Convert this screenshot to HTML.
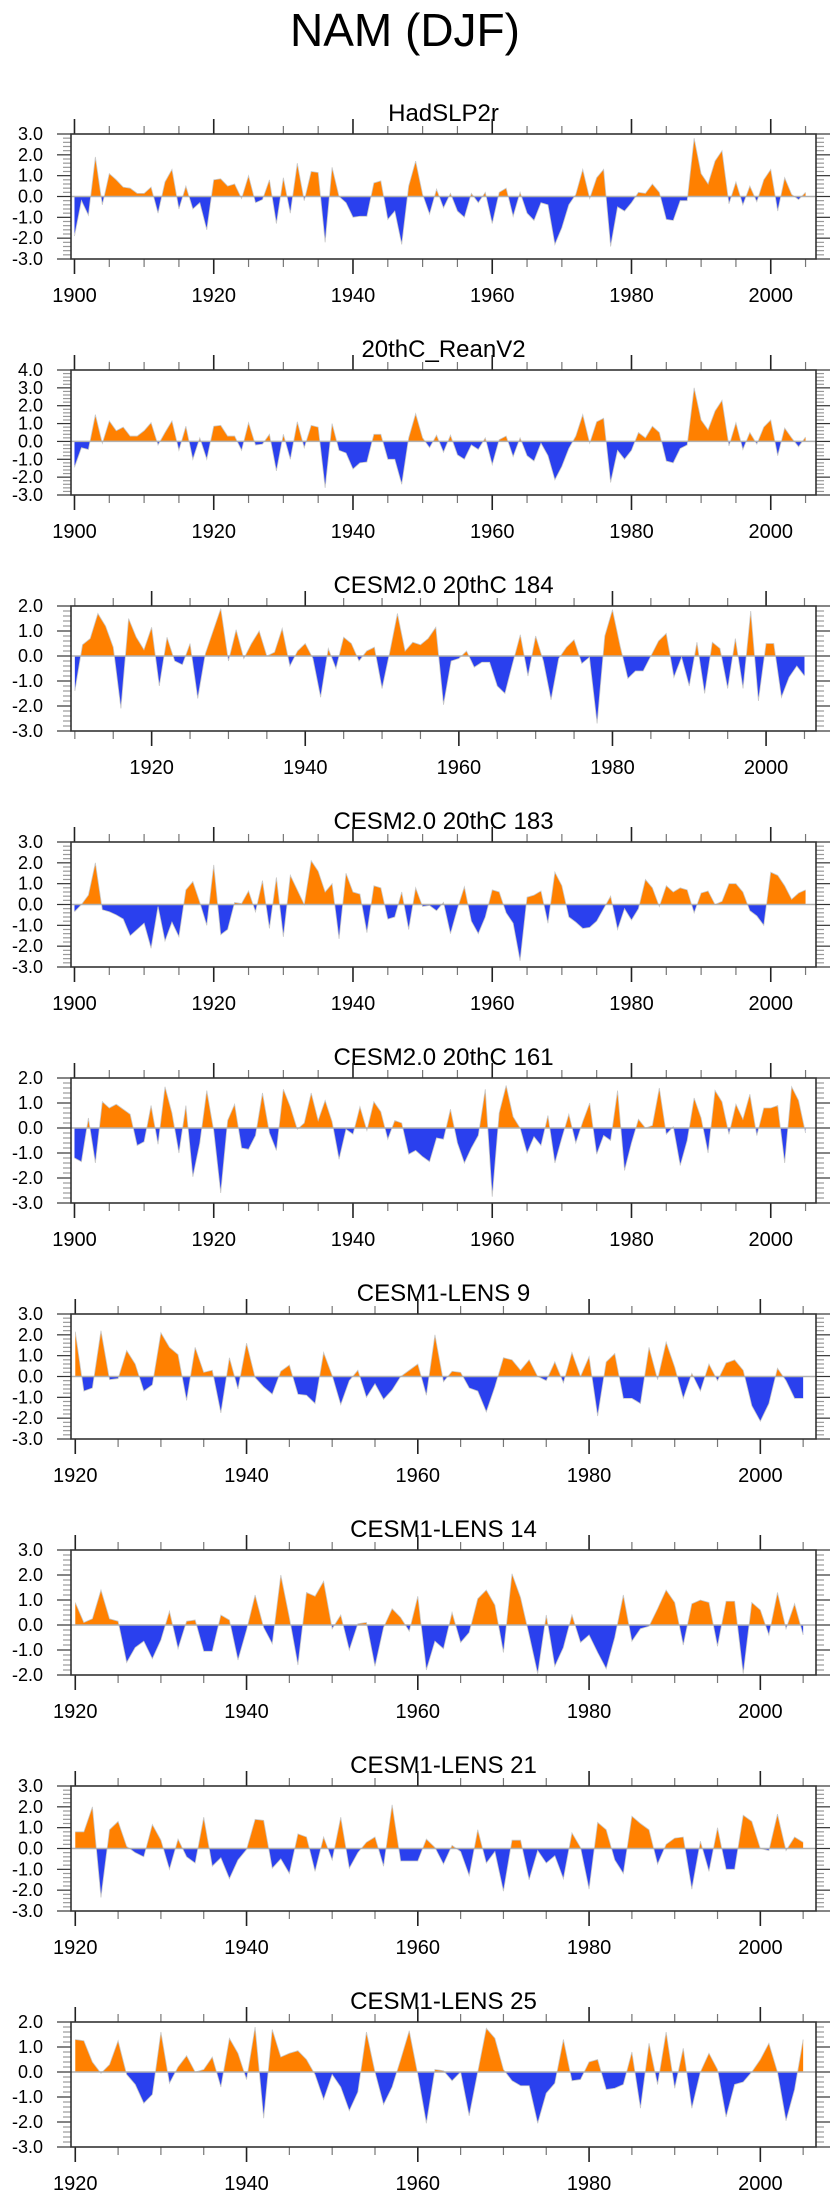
<!DOCTYPE html>
<html><head><meta charset="utf-8">
<style>
html,body{margin:0;padding:0;background:#fff;}
svg{display:block;}
text{font-family:"Liberation Sans",sans-serif;fill:#000;}
</style></head>
<body>
<svg id="fig" width="840" height="2200" viewBox="0 0 840 2200" xmlns="http://www.w3.org/2000/svg">
<text x="405" y="46" font-size="46" text-anchor="middle">NAM (DJF)</text>
</svg>
<script>
const titles = ["HadSLP2r","20thC_ReanV2","CESM2.0 20thC 184","CESM2.0 20thC 183","CESM2.0 20thC 161","CESM1-LENS 9","CESM1-LENS 14","CESM1-LENS 21","CESM1-LENS 25"];
const startYears = [1900,1900,1910,1900,1900,1920,1920,1920,1920];
const yMins = [-3,-3,-3,-3,-3,-3,-2,-3,-3];
const yMaxs = [3,4,2,3,2,3,3,3,2];
const xTickLabels = [1900,1920,1940,1960,1980,2000];
const had = [-1.9,-0.2,-0.9,1.9,-0.4,1.1,0.8,0.45,0.4,0.15,0.15,0.45,-0.8,0.7,1.3,-0.6,0.5,-0.6,-0.3,-1.6,0.8,0.85,0.5,0.6,-0.1,1.0,-0.3,-0.15,0.8,-1.3,0.9,-0.8,1.6,-0.2,1.2,1.15,-2.2,1.4,0,-0.3,-1.0,-0.95,-0.95,0.65,0.75,-1.1,-0.7,-2.3,0.5,1.7,0.1,-0.85,0.35,-0.55,0.15,-0.7,-1.0,0.15,-0.3,0.2,-1.3,0.2,0.4,-0.95,0.2,-0.8,-1.15,-0.3,-0.4,-2.3,-1.5,-0.4,0.1,1.3,-0.1,0.9,1.3,-2.4,-0.5,-0.7,-0.3,0.2,0.15,0.6,0.2,-1.1,-1.15,-0.2,-0.2,2.8,1.1,0.6,1.7,2.2,-0.35,0.7,-0.4,0.5,-0.25,0.8,1.3,-0.7,0.9,0.1,-0.15,0.2];
const rean = [-1.45,-0.35,-0.45,1.5,-0.1,1.15,0.6,0.8,0.3,0.3,0.6,1.05,-0.2,0.5,1.15,-0.5,0.85,-1.0,0.2,-1.0,0.85,0.9,0.3,0.3,-0.5,1.05,-0.2,-0.15,0.4,-1.65,0.4,-1.0,1.1,-0.35,0.9,0.8,-2.6,1.0,-0.5,-0.65,-1.55,-1.2,-1.15,0.4,0.4,-1.0,-1.0,-2.4,0.2,1.55,0.2,-0.35,0.35,-0.6,0.35,-0.75,-1.0,-0.2,-0.45,0.2,-1.3,0.1,0.3,-0.85,0.2,-0.8,-1.1,-0.1,-0.8,-2.15,-1.4,-0.4,0.3,1.5,-0.1,1.1,1.3,-2.3,-0.5,-1.0,-0.5,0.5,0.2,0.85,0.5,-1.1,-1.2,-0.4,-0.2,3.0,1.2,0.65,1.7,2.3,-0.25,1.05,-0.45,0.5,-0.15,0.8,1.2,-0.8,0.75,0.2,-0.3,0.25];
const c184 = [-1.4,0.45,0.7,1.7,1.2,0.35,-2.1,1.5,0.75,0.25,1.15,-1.2,0.75,-0.2,-0.35,0.5,-1.7,0.1,1.0,1.9,-0.2,1.05,-0.1,0.5,1.0,0.0,0.15,1.1,-0.4,0.2,0.5,-0.1,-1.65,0.3,-0.5,0.75,0.5,-0.2,0.2,0.35,-1.3,0.15,1.7,0.2,0.55,0.45,0.7,1.15,-1.95,-0.2,-0.1,0.2,-0.45,-0.25,-0.25,-1.2,-1.5,-0.3,0.85,-0.8,0.8,-0.2,-1.75,-0.1,0.35,0.65,-0.3,-0.05,-2.7,0.8,1.85,0.4,-0.9,-0.6,-0.6,0,0.6,0.9,-0.85,-0.05,-1.2,0.55,-1.5,0.55,0.3,-1.3,0.7,-1.3,1.8,-1.8,0.5,0.5,-1.65,-0.85,-0.4,-0.8];
const c183 = [-0.35,0,0.45,2.0,-0.25,-0.35,-0.5,-0.7,-1.5,-1.2,-0.9,-2.1,-0.1,-1.75,-0.85,-1.55,0.7,1.1,0.1,-1.0,1.9,-1.45,-1.2,0.1,0.05,0.65,-0.35,1.15,-1.15,1.3,-1.55,1.4,0.7,0.0,2.1,1.6,0.6,1.0,-1.65,1.5,0.6,0.5,-1.35,0.9,0.8,-0.7,-0.6,0.6,-1.2,0.8,-0.1,-0.05,-0.3,0.1,-1.4,-0.2,0.85,-0.8,-1.4,-0.6,0.7,0.6,-0.4,-0.9,-2.7,0.35,0.45,0.65,-0.9,1.55,0.9,-0.6,-0.85,-1.15,-1.1,-0.8,-0.2,0.4,-1.2,-0.2,-0.75,-0.2,1.2,0.8,-0.1,0.9,0.6,0.8,0.7,-0.4,0.55,0.65,0.0,0.15,1.0,1.0,0.6,-0.3,-0.55,-1.0,1.55,1.4,0.9,0.25,0.55,0.7];
const c161 = [-1.2,-1.35,0.4,-1.4,1.05,0.8,0.95,0.75,0.55,-0.7,-0.55,0.9,-0.65,1.65,0.6,-1.0,0.9,-1.95,-0.6,1.5,-0.1,-2.6,0.3,0.95,-0.8,-0.85,-0.3,1.4,-0.2,-0.9,1.55,0.85,-0.05,0.2,1.4,0.3,1.1,0.25,-1.25,-0.05,-0.25,0.85,-0.1,1.05,0.65,-0.45,0.3,0.2,-1.05,-0.9,-1.15,-1.35,-0.4,-0.45,0.75,-0.6,-1.4,-0.8,-0.3,1.55,-2.75,0.6,1.7,0.45,0.0,-1.0,-0.35,-0.7,0.5,-1.4,-0.4,0.55,-0.6,0.25,1.0,-1.05,-0.3,-0.5,1.5,-1.7,-0.6,0.35,0.0,0.1,1.6,-0.25,0.05,-1.5,-0.5,1.2,0.4,-1.0,1.5,1.05,-0.25,0.95,0.35,1.35,-0.3,0.8,0.8,0.9,-1.4,1.65,1.1,-0.2];
const l9 = [2.15,-0.7,-0.55,2.2,-0.15,-0.1,1.25,0.6,-0.7,-0.4,2.1,1.4,1.05,-1.15,1.4,0.2,0.3,-1.75,0.9,-0.6,1.6,-0.05,-0.5,-0.85,0.25,0.55,-0.85,-0.9,-1.3,1.15,0.05,-1.35,-0.2,0.3,-1.0,-0.35,-1.1,-0.65,0.0,0.3,0.6,-0.9,2.0,-0.25,0.25,0.2,-0.55,-0.7,-1.7,-0.5,0.9,0.8,0.3,0.8,0.0,-0.2,0.7,-0.3,1.15,0.0,0.95,-1.9,0.7,1.1,-1.05,-1.05,-1.3,1.4,-0.15,1.65,0.45,-1.05,0.15,-0.7,0.6,-0.2,0.65,0.8,0.3,-1.4,-2.15,-1.3,0.4,-0.2,-1.05,-1.05];
const l14 = [0.9,0.1,0.25,1.4,0.25,0.15,-1.5,-0.9,-0.65,-1.35,-0.6,0.55,-0.95,0.15,0.2,-1.05,-1.05,0.4,0.2,-1.4,-0.2,1.2,-0.1,-0.75,2.0,0.3,-1.6,1.3,1.15,1.75,-0.15,0.4,-1.0,0.05,0.1,-1.65,-0.1,0.65,0.3,-0.25,1.15,-1.8,-0.65,-0.95,0.5,-0.7,-0.3,1.05,1.4,0.8,-1.1,2.05,1.1,-0.4,-1.95,0.4,-1.65,-0.9,0.4,-0.7,-0.4,-1.1,-1.75,-0.5,1.2,-0.65,-0.15,-0.05,0.65,1.4,0.9,-0.8,0.85,1.0,0.9,-0.85,0.95,0.95,-1.95,0.9,0.6,-0.4,1.3,-0.15,0.85,-0.4];
const l21 = [0.8,0.8,2.0,-2.35,0.9,1.3,0.1,-0.2,-0.4,1.15,0.4,-1.0,0.45,-0.4,-0.7,1.5,-0.85,-0.45,-1.45,-0.55,-0.05,1.4,1.35,-0.95,-0.5,-1.2,0.7,0.55,-1.1,0.55,-0.55,1.5,-0.95,-0.2,0.3,0.55,-0.85,2.1,-0.6,-0.6,-0.6,0.45,0.05,-0.75,0.15,-0.15,-1.3,0.9,-0.7,-0.15,-2.05,0.4,0.4,-1.5,-0.1,-0.7,-0.35,-1.45,0.75,0.05,-1.95,1.25,0.9,-0.55,-1.2,1.55,1.2,0.9,-0.75,0.2,0.5,0.55,-1.95,0.35,-1.1,1.0,-1.0,-1.0,1.6,1.3,0.0,-0.1,1.65,-0.1,0.55,0.3];
const l25 = [1.3,1.25,0.4,-0.05,0.3,1.25,-0.1,-0.5,-1.25,-0.9,1.6,-0.45,0.2,0.65,0.0,0.1,0.6,-0.6,1.35,0.75,-0.3,1.8,-1.85,1.7,0.6,0.75,0.85,0.5,-0.1,-1.1,-0.1,-0.6,-1.55,-0.8,1.6,0.0,-1.3,-0.6,0.5,1.65,-0.1,-2.05,0.1,0.05,-0.35,0.0,-1.75,0.0,1.75,1.35,0.1,-0.35,-0.55,-0.55,-2.05,-0.85,-0.45,1.3,-0.35,-0.3,0.4,0.5,-0.7,-0.65,-0.5,0.8,-1.45,1.15,-0.5,1.6,-0.65,0.95,-1.45,0.0,0.75,0.1,-1.8,-0.5,-0.4,0.0,0.5,1.15,0.0,-1.95,-0.7,1.3];
const seriesList = [had,rean,c184,c183,c161,l9,l14,l21,l25];
const panelNames = ["hadslp2r","20thc-reanv2","cesm2-184","cesm2-183","cesm2-161","cesm1-lens-9","cesm1-lens-14","cesm1-lens-21","cesm1-lens-25"];

const NS = "http://www.w3.org/2000/svg";
const svg = document.getElementById('fig');
const L = 71, R = 816, H = 125, TOP0 = 134, PITCH = 236, END = 2006.5;
function mk(tag, attrs, parent){ const e=document.createElementNS(NS,tag); for(const k in attrs) e.setAttribute(k,attrs[k]); (parent||svg).appendChild(e); return e; }

seriesList.forEach((vals, p) => {
  const top = TOP0 + PITCH*p, bot = top + H;
  const x0 = startYears[p] - 0.5;
  const ymin = yMins[p], ymax = yMaxs[p];
  const xs = yr => L + (yr - x0) / (END - x0) * (R - L);
  const ys = v => bot - (v - ymin) / (ymax - ymin) * H;
  const g = mk('g', {});
  
  
  const t = mk('text', {x:(L+R)/2, y: top-13, 'font-size':24, 'text-anchor':'middle'}, g);
  t.textContent = titles[p];
  
  
  // clip paths
  const cidA = 'ca'+p, cidB = 'cb'+p;
  const defs = mk('defs', {}, g);
  const cpA = mk('clipPath', {id:cidA}, defs);
  mk('rect', {x:L, y:top, width:R-L, height:ys(0)-top}, cpA);
  const cpB = mk('clipPath', {id:cidB}, defs);
  mk('rect', {x:L, y:ys(0), width:R-L, height:bot-ys(0)}, cpB);
  let pts = vals.map((v,i)=> xs(startYears[p]+i).toFixed(2)+','+ys(v).toFixed(2));
  const firstX = xs(startYears[p]), lastX = xs(startYears[p]+vals.length-1);
  const area = 'M'+firstX+','+ys(0)+' L'+pts.join(' L')+' L'+lastX+','+ys(0)+' Z';
  const pa = mk('path', {d:area, fill:'#ff8000', 'clip-path':'url(#'+cidA+')'}, g);
  
  
  const pb = mk('path', {d:area, fill:'#2a40ee', 'clip-path':'url(#'+cidB+')'}, g);
  
  
  const ln = mk('polyline', {points:pts.join(' '), fill:'none', stroke:'#c8c8c8', 'stroke-width':0.8}, g);
  
  
  const zl = mk('line', {x1:L, x2:R, y1:ys(0), y2:ys(0), stroke:'#b0b0b0', 'stroke-width':1.5}, g);
  
  
  // y ticks
  for (let k = Math.round(ymin*5); k <= Math.round(ymax*5); k++) {
    const v = k/5, y = ys(v), major = (k % 5 === 0);
    const len = major ? 14 : 8, col = major ? '#333' : '#999';
    mk('line', {x1:L-len, x2:L, y1:y, y2:y, stroke:col, 'stroke-width':1.2}, g);
    mk('line', {x1:R, x2:R+len, y1:y, y2:y, stroke:col, 'stroke-width':1.2}, g);
    if (major) {
      const tl = mk('text', {x:43, y:y+6, 'font-size':18, 'text-anchor':'end'}, g);
      tl.textContent = v.toFixed(1);
      
      
    }
  }
  // x ticks
  for (let yr = Math.ceil(x0/5)*5; yr <= END; yr += 5) {
    const x = xs(yr), major = (yr % 20 === 0);
    const len = major ? 15 : 8, col = major ? '#222' : '#777';
    mk('line', {x1:x, x2:x, y1:top-len, y2:top, stroke:col, 'stroke-width':major?1.6:1.2}, g);
    mk('line', {x1:x, x2:x, y1:bot, y2:bot+len, stroke:col, 'stroke-width':major?1.6:1.2}, g);
  }
  xTickLabels.forEach(yr => {
    if (yr < x0 || yr > END) return;
    const xl = mk('text', {x:xs(yr), y:bot+43, 'font-size':20, 'text-anchor':'middle'}, g);
    xl.textContent = yr;
    
    
  });
  const box = mk('rect', {x:L, y:top, width:R-L, height:H, fill:'none', stroke:'#333', 'stroke-width':1.6}, g);
  
  
});
</script>
</body></html>
